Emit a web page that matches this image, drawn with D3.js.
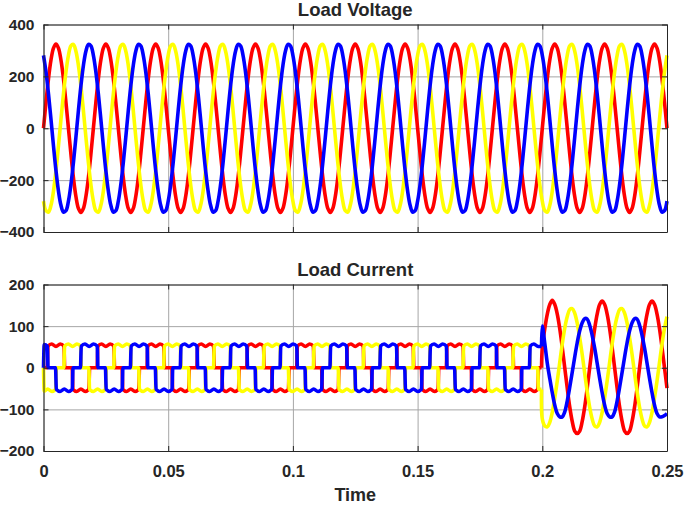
<!DOCTYPE html>
<html><head><meta charset="utf-8">
<script src="https://cdn.jsdelivr.net/npm/d3@7"></script>
<style>
body{margin:0;background:#fff}
text{font-family:"Liberation Sans",Arial,Helvetica,sans-serif;font-weight:bold;fill:#262626}
</style>
</head><body>
<svg id="chart" width="685" height="505"></svg>
<script>
// ---------------- DATA ----------------
const phaseNames = ["Phase A", "Phase B", "Phase C"];
const phaseColors = ["#ff0000", "#ffff00", "#0000ff"];
const xTicks = [0, 0.05, 0.1, 0.15, 0.2, 0.25];
const xTickLabels = ["0", "0.05", "0.1", "0.15", "0.2", "0.25"];
const vTicks = [-400, -200, 0, 200, 400];
const iTicks = [-200, -100, 0, 100, 200];
const titles = ["Load Voltage", "Load Current"];
const xLabel = "Time";

const voltageStepMs = 1;
const voltageEndMs = 250;
const vCycleA = [0, 100, 191, 263, 309, 325, 309, 263, 191, 100, 0, -100, -191, -263, -309, -325, -309, -263, -191, -100];
const vCycleB = [-281, -318, -323, -297, -242, -163, -68, 34, 132, 217, 281, 318, 323, 297, 242, 163, 68, -34, -132, -217];
const vCycleC = [281, 217, 132, 34, -68, -163, -242, -297, -323, -318, -281, -217, -132, -34, 68, 163, 242, 297, 323, 318];

// Load current before 0.2 s: 120-degree conduction block (ms, A) per 20 ms cycle, with phase delays
const iCycleMs = 20;
const iBlockCycle = [[0,0],[1.5,0],[1.8,52],[3.3,57],[5.0,51],[6.7,57],[8.2,52],[8.5,0],[11.5,0],[11.8,-52],[13.3,-57],[15.0,-51],[16.7,-57],[18.2,-52],[18.5,0],[20,0]];
const iDelayMs = [0, 6.667, 13.333];
const iStartA = [[0, 0]];
const iStartB = [[0, 0], [0.3, -56]];
const iStartC = [[0, 0], [0.3, 56]];
const iSwitchMs = 200;

// Load current after 0.2 s: samples every 1 ms from 200 to 250 ms
const iPostA = [49,94,129,152,162,152,129,94,49,0,-49,-94,-129,-152,-158,-152,-129,-94,-49,0,
                49,94,129,152,160,152,129,94,49,0,-49,-94,-129,-152,-158,-152,-129,-94,-49,0,
                49,94,129,152,160,152,129,94,49,0,-49];
const iPostB = [-123,-140,-142,-131,-107,-72,-32,13,57,95,123,140,142,131,107,72,32,-13,-57,-95,
                -123,-140,-142,-131,-107,-72,-32,13,57,95,123,140,142,131,107,72,32,-13,-57,-95,
                -123,-140,-142,-131,-107,-72,-32,13,57,95,123];
const iPostC = [100,58,11,-26,-60,-90,-110,-118,-118,-106,-80,-47,-11,26,60,89,108,118,117,102,
                78,47,11,-26,-60,-90,-110,-118,-118,-106,-80,-47,-11,26,60,89,108,118,117,102,
                78,47,11,-26,-60,-90,-110,-118,-118,-115,-110];

// ---------------- BUILD SERIES ----------------
function voltageSeries(cycle) {
  const pts = [];
  for (let k = 0; k * voltageStepMs <= voltageEndMs; k++) pts.push([k * voltageStepMs / 1000, cycle[k % cycle.length]]);
  return pts;
}
function preCurrent(start, delay) {
  const from = start[start.length - 1][0], to = iSwitchMs - 0.3;
  let pts = [];
  for (let c = -1; c <= iSwitchMs / iCycleMs + 1; c++)
    for (const [t, v] of iBlockCycle) {
      const T = t + delay + iCycleMs * c;
      if (T > from && T < to) pts.push([T, v]);
    }
  pts.sort((a, b) => a[0] - b[0]);
  pts = pts.filter((p, i) => i === 0 || p[0] - pts[i - 1][0] > 1e-6);
  const all = start.concat(pts);
  all.push([to, all[all.length - 1][1]]);
  return all.map(([t, v]) => [t / 1000, v]);
}
function postCurrent(pre, post) {
  const pts = [pre[pre.length - 1]];
  post.forEach((v, k) => pts.push([(iSwitchMs + k) / 1000, v]));
  return pts;
}
const vSeries = [vCycleA, vCycleB, vCycleC].map(voltageSeries);
const iPre = [preCurrent(iStartA, iDelayMs[0]), preCurrent(iStartB, iDelayMs[1]), preCurrent(iStartC, iDelayMs[2])];
const iPost = [postCurrent(iPre[0], iPostA), postCurrent(iPre[1], iPostB), postCurrent(iPre[2], iPostC)];

// ---------------- DRAW ----------------
const svg = d3.select("#chart");
const L = 43.5, R = 667;
const x = d3.scaleLinear().domain([0, 0.25]).range([L, R]);
const panels = [
  {y: d3.scaleLinear().domain([-400, 400]).range([232, 24.5]), ticks: vTicks, title: titles[0], titleY: 15.5, labelsX: false},
  {y: d3.scaleLinear().domain([-200, 200]).range([451, 284.5]), ticks: iTicks, title: titles[1], titleY: 275.5, labelsX: true}
];
const axisColor = "#262626", gridColor = "#a6a6a6";
const lineW = 3.6;

panels.forEach((p, pi) => {
  const g = svg.append("g");
  const [yb, yt] = p.y.range();
  // grid
  g.append("g").attr("transform", `translate(0,${yb})`)
    .call(d3.axisBottom(x).tickValues(xTicks).tickSize(-(yb - yt)).tickFormat(""))
    .call(s => s.select(".domain").remove())
    .selectAll("line").attr("stroke", gridColor).attr("stroke-width", 1);
  g.append("g").attr("transform", `translate(${L},0)`)
    .call(d3.axisLeft(p.y).tickValues(p.ticks).tickSize(-(R - L)).tickFormat(""))
    .call(s => s.select(".domain").remove())
    .selectAll("line").attr("stroke", gridColor).attr("stroke-width", 1);

  // data lines
  if (pi === 0) {
    vSeries.forEach((s, i) => {
      g.append("path").datum(s).attr("fill", "none").attr("stroke", phaseColors[i])
        .attr("stroke-width", lineW).attr("stroke-linejoin", "round")
        .attr("d", d3.line().x(d => x(d[0])).y(d => p.y(d[1])).curve(d3.curveCatmullRom.alpha(0.5)));
    });
  } else {
    [0, 1, 2].forEach(i => {
      g.append("path").datum(iPre[i]).attr("fill", "none").attr("stroke", phaseColors[i])
        .attr("stroke-width", lineW).attr("stroke-linejoin", "round")
        .attr("d", d3.line().x(d => x(d[0])).y(d => p.y(d[1])).curve(d3.curveMonotoneX));
      g.append("path").datum(iPost[i]).attr("fill", "none").attr("stroke", phaseColors[i])
        .attr("stroke-width", lineW).attr("stroke-linejoin", "round")
        .attr("d", d3.line().x(d => x(d[0])).y(d => p.y(d[1])).curve(d3.curveCatmullRom.alpha(0.5)));
    });
  }

  // axes with inward ticks
  const ax = g.append("g").attr("class", "axes");
  ax.append("g").attr("transform", `translate(${L},0)`)
    .call(d3.axisLeft(p.y).tickValues(p.ticks).tickSize(-5).tickSizeOuter(0).tickPadding(9))
    .call(s => s.selectAll("text").attr("font-size", 15.5));
  ax.append("g").attr("transform", `translate(${R},0)`)
    .call(d3.axisRight(p.y).tickValues(p.ticks).tickSize(-5).tickSizeOuter(0).tickFormat(""));
  ax.append("g").attr("transform", `translate(0,${yb})`)
    .call(d3.axisBottom(x).tickValues(xTicks).tickSize(-5).tickSizeOuter(0).tickPadding(14.5)
      .tickFormat((d, i) => p.labelsX ? xTickLabels[i] : ""))
    .call(s => s.selectAll("text").attr("font-size", 16.5));
  ax.append("g").attr("transform", `translate(0,${yt})`)
    .call(d3.axisTop(x).tickValues(xTicks).tickSize(-5).tickSizeOuter(0).tickFormat(""));
  ax.selectAll(".domain").attr("stroke", axisColor);
  ax.selectAll(".tick line").attr("stroke", axisColor);
  ax.selectAll("text").attr("fill", axisColor).attr("font-family", "'Liberation Sans', Arial, sans-serif").attr("font-weight", "bold");

  // title
  svg.append("text").attr("x", (L + R) / 2).attr("y", p.titleY).attr("text-anchor", "middle")
    .attr("font-size", 18.5).text(p.title);
});

svg.append("text").attr("x", (L + R) / 2).attr("y", 500.5).attr("text-anchor", "middle")
  .attr("font-size", 18).text(xLabel);
</script>
</body></html>
